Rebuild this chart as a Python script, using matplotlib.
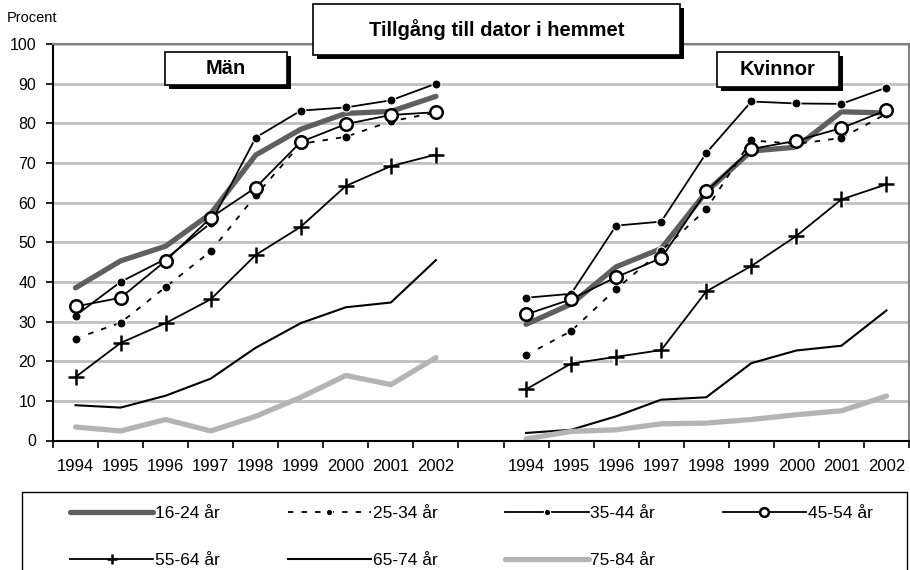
import matplotlib.pyplot as plt
from matplotlib.lines import Line2D
from matplotlib.patches import Rectangle

plt.rcParams['font.family'] = ['Liberation Sans', 'DejaVu Sans']

years = ['1994', '1995', '1996', '1997', '1998', '1999', '2000', '2001', '2002']
groups = ['16-24 år', '25-34 år', '35-44 år', '45-54 år', '55-64 år', '65-74 år', '75-84 år']

# Män
man_16_24 = [38.5, 45.3, 49.0, 57.2, 72.0, 78.5, 82.5, 83.0, 86.8]
man_25_34 = [25.7, 29.7, 38.7, 47.7, 61.8, 74.8, 76.6, 80.5, 82.7]
man_35_44 = [31.5, 40.0, 45.8, 54.8, 76.4, 83.2, 84.0, 85.8, 90.0]
man_45_54 = [33.8, 36.0, 45.3, 56.2, 63.8, 75.3, 79.8, 82.1, 82.8]
man_55_64 = [16.0, 24.6, 29.6, 35.6, 46.8, 53.9, 64.2, 69.2, 72.1]
man_65_74 = [8.9, 8.3, 11.3, 15.6, 23.4, 29.6, 33.6, 34.8, 45.5]
man_75_84 = [3.4, 2.4, 5.3, 2.4, 6.1, 10.9, 16.4, 14.1, 20.9]

# Kvinnor
kv_16_24 = [29.3, 34.4, 43.8, 48.4, 62.7, 73.0, 74.0, 82.9, 82.6]
kv_25_34 = [21.5, 27.6, 38.2, 47.8, 58.3, 75.7, 74.8, 76.3, 82.4]
kv_35_44 = [36.0, 37.0, 54.2, 55.2, 72.5, 85.5, 85.0, 84.9, 89.0]
kv_45_54 = [31.8, 35.6, 41.2, 46.0, 62.8, 73.5, 75.6, 78.8, 83.3]
kv_55_64 = [12.9, 19.4, 21.1, 22.8, 37.6, 44.0, 51.6, 60.8, 64.6]
kv_65_74 = [1.9, 2.7, 6.1, 10.3, 10.9, 19.5, 22.7, 23.9, 32.8]
kv_75_84 = [0.4, 2.3, 2.7, 4.2, 4.4, 5.3, 6.5, 7.5, 11.2]

man = [man_16_24, man_25_34, man_35_44, man_45_54, man_55_64, man_65_74, man_75_84]
kvinnor = [kv_16_24, kv_25_34, kv_35_44, kv_45_54, kv_55_64, kv_65_74, kv_75_84]

styles = [
    dict(color='#5f5f5f', lw=3.8, solid_capstyle='round'),
    dict(color='black', lw=1.3, ls=(0, (3, 4.5)), marker='o', ms=6.5, mfc='black', mec='white', mew=0.8),
    dict(color='black', lw=1.3, marker='o', ms=6.5, mfc='black', mec='white', mew=0.8),
    dict(color='black', lw=1.3, marker='o', ms=9, mfc='white', mec='black', mew=1.8),
    dict(color='black', lw=1.3, marker='+', ms=11, mew=1.8),
    dict(color='black', lw=1.5),
    dict(color='#b4b4b4', lw=3.8, solid_capstyle='round'),
]

W, H = 910, 570


def fx(x):
    return x / W


def fy(y):
    return 1 - y / H


fig = plt.figure(figsize=(9.1, 5.7), dpi=100)
ax = fig.add_axes([fx(53), fy(440.5), (909 - 53) / W, (440.5 - 44) / H])

# 19 category slots: Män 0-8, empty slot 9, Kvinnor 10-18
x_man = list(range(9))
x_kv = [i + 10 for i in range(9)]

for xs, panel in ((x_man, man), (x_kv, kvinnor)):
    for vals, st in zip(panel, styles):
        if st.get('marker') == '+':
            ax.plot(xs, vals, ls='none', marker='+', ms=11, mew=4.5, color='white')
        ax.plot(xs, vals, **st)

ax.set_xlim(-0.5, 18.5)
ax.set_ylim(0, 100)
ax.set_yticks(range(0, 101, 10))
ax.yaxis.grid(True, color='#c0c0c0', lw=2)
ax.set_axisbelow(True)

ax.set_xticks([i - 0.5 for i in range(20)])
ax.set_xticklabels([])
ax.set_xticks(x_man + x_kv, minor=True)
ax.set_xticklabels(years + years, minor=True)
ax.tick_params(axis='x', which='major', direction='out', length=5, width=1.2)
ax.tick_params(axis='x', which='minor', length=0, pad=13, labelsize=12)
ax.tick_params(axis='y', direction='out', length=5, width=1.2, pad=7, labelsize=11.5)

for side in ('left', 'bottom'):
    ax.spines[side].set_color('black')
    ax.spines[side].set_linewidth(1.5)
for side in ('top', 'right'):
    ax.spines[side].set_color('#808080')
    ax.spines[side].set_linewidth(1.5)

fig.text(fx(7), fy(18), 'Procent', fontsize=10.5, va='center', ha='left')


def shadow_box(x, y, w, h, label, size):
    fig.patches.append(Rectangle((fx(x + 4), fy(y + h + 4)), w / W, h / H,
                                 transform=fig.transFigure, facecolor='black',
                                 edgecolor='none', zorder=2))
    fig.patches.append(Rectangle((fx(x), fy(y + h)), w / W, h / H,
                                 transform=fig.transFigure, facecolor='white',
                                 edgecolor='black', lw=1.2, zorder=2))
    fig.text(fx(x + w / 2), fy(y + h / 2), label, fontsize=size, fontweight='bold',
             ha='center', va='center', zorder=3)


shadow_box(313, 4, 367, 51, 'Tillgång till dator i hemmet', 14.5)
shadow_box(165, 52, 122, 33, 'Män', 14.5)
shadow_box(717, 52, 122, 35, 'Kvinnor', 14.5)

# legend frame runs past the bottom edge
fig.patches.append(Rectangle((fx(22), fy(620)), (907 - 22) / W, (620 - 492) / H,
                             transform=fig.transFigure, facecolor='white',
                             edgecolor='black', lw=1.0, zorder=2))
handles = [Line2D([], [], **st) for st in styles]
# legend fills column by column; order so rows read 16-24 .. 45-54, then 55-64 .. 75-84
order = [0, 4, 1, 5, 2, 6, 3]
fig.legend([handles[i] for i in order], [groups[i] for i in order],
           loc='upper left', bbox_to_anchor=(fx(70), fy(506)),
           ncol=4, frameon=False, fontsize=12.5, handlelength=4.8, handletextpad=0.1,
           columnspacing=3.9, labelspacing=1.85, borderpad=0, borderaxespad=0,
           markerscale=0.7)

fig.savefig('out.png', dpi=100)
